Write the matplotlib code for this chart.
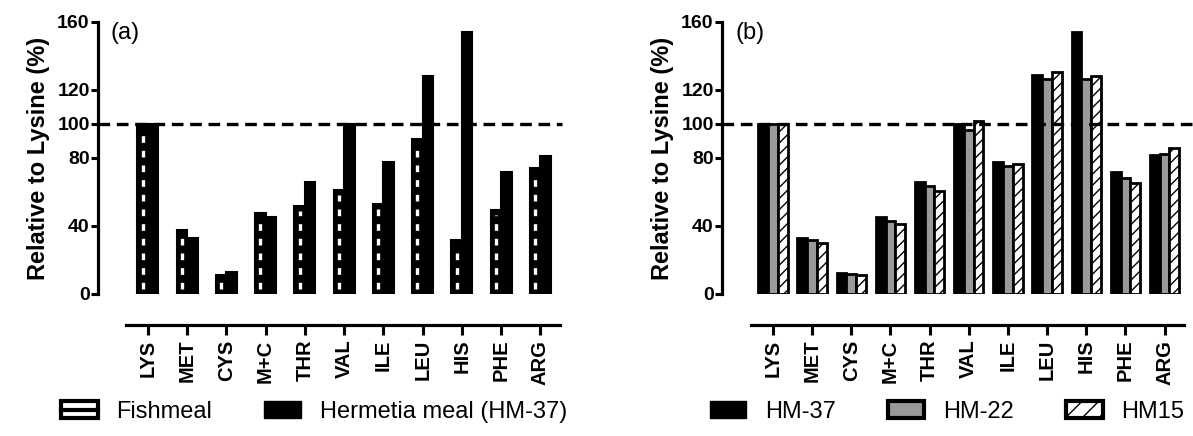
import numpy as np
import matplotlib
matplotlib.use("Agg")
import matplotlib.pyplot as plt
from matplotlib.patches import Patch
from matplotlib.lines import Line2D
from matplotlib.legend_handler import HandlerTuple

plt.rcParams['font.family'] = ['Liberation Sans', 'DejaVu Sans']

amino = ['LYS', 'MET', 'CYS', 'M+C', 'THR', 'VAL', 'ILE', 'LEU', 'HIS', 'PHE', 'ARG']

# panel (a)
fishmeal = [100, 37.4, 11, 47.7, 51.6, 61, 53, 91.4, 31.5, 49.6, 74.3]
hermetia = [100, 32.7, 13, 45.3, 66, 100, 77.8, 128.4, 154, 72, 81.3]

# panel (b)
hm37 = [100, 32.7, 12.5, 45.1, 66.1, 100, 77.8, 128.8, 154.3, 71.6, 81.7]
hm22 = [100, 31.5, 11.5, 42.8, 63.8, 96.7, 75.3, 126.5, 126.5, 68.1, 82.5]
hm15 = [100, 30.2, 11.0, 41.2, 60.7, 101.6, 76.3, 130.4, 128.0, 65.2, 85.6]

yticks = [0, 40, 80, 100, 120, 160]

W, H = 1193, 436
fig = plt.figure(figsize=(W / 100, H / 100), dpi=100)

def px_axes(left, right, top, bottom):
    return fig.add_axes([left / W, 1 - bottom / H, (right - left) / W, (bottom - top) / H])

ax1 = px_axes(98, 562, 22, 294)
ax2 = px_axes(722, 1192, 22, 294)

def style(ax, xlim, letter):
    ax.set_xlim(*xlim)
    ax.set_ylim(0, 160)
    for s in ['top', 'right']:
        ax.spines[s].set_visible(False)
    ax.spines['left'].set_linewidth(2.3)
    ax.spines['bottom'].set_linewidth(2.3)
    ax.spines['bottom'].set_position(('outward', 22))
    ax.spines['bottom'].set_bounds(-0.55, 10.5)
    ax.set_yticks(yticks)
    ax.set_yticklabels([str(v) for v in yticks], fontsize=14, fontweight='bold')
    ax.set_xticks(np.arange(len(amino)))
    ax.set_xticklabels(amino, rotation=90, fontsize=14.5, fontweight='bold')
    ax.tick_params(axis='y', width=2.2, length=5, pad=1)
    ax.tick_params(axis='x', width=2.2, length=7, pad=4)
    ax.set_ylabel('Relative to Lysine (%)', fontsize=17, fontweight='bold', labelpad=5)
    ax.axhline(100, color='black', lw=2.4, dashes=(3.5, 2), zorder=5, clip_on=False)
    ax.text(0.028, 1.0, letter, transform=ax.transAxes, fontsize=17, va='top', ha='left')

x = np.arange(len(amino))

# (a)
bw = 0.27
ax1.bar(x - bw / 2, fishmeal, bw, color='black', edgecolor='black', lw=1.5)
for xi, v in zip(x - bw / 2, fishmeal):
    ax1.plot([xi, xi], [3, v - 3], color='white', lw=2.4, dashes=(2.0, 2.4), solid_capstyle='butt')
ax1.bar(x + bw / 2, hermetia, bw, color='black', edgecolor='black', lw=1.5)
style(ax1, (-1.27, 10.55), '(a)')

# (b)
bw2 = 0.25
ax2.bar(x - bw2, hm37, bw2, color='black', edgecolor='black', lw=2)
ax2.bar(x, hm22, bw2, color='#9a9a9a', edgecolor='black', lw=2)
ax2.bar(x + bw2, hm15, bw2, color='white', edgecolor='black', lw=2, hatch='///')
style(ax2, (-1.3, 10.7), '(b)')

leg_kw = dict(loc='center', frameon=False, fontsize=17, handlelength=1.55, handleheight=0.75,
              columnspacing=2.2, handletextpad=0.8, borderaxespad=0, borderpad=0)
fish_handle = (Patch(facecolor='white', edgecolor='black', lw=3),
               Line2D([], [], color='black', lw=3))
h_a = [fish_handle, Patch(facecolor='black', edgecolor='black')]
fig.legend(h_a, ['Fishmeal', 'Hermetia meal (HM-37)'], bbox_to_anchor=(314 / W, 1 - 412 / H),
           ncol=2, handler_map={tuple: HandlerTuple(ndivide=1, pad=0)}, **leg_kw)
h_b = [Patch(facecolor='black', edgecolor='black'),
       Patch(facecolor='#9a9a9a', edgecolor='black', lw=3),
       Patch(facecolor='white', edgecolor='black', lw=3, hatch='//')]
fig.legend(h_b, ['HM-37', 'HM-22', 'HM15'], bbox_to_anchor=(947 / W, 1 - 412 / H),
           ncol=3, **leg_kw)

fig.savefig('out.png', dpi=100)
